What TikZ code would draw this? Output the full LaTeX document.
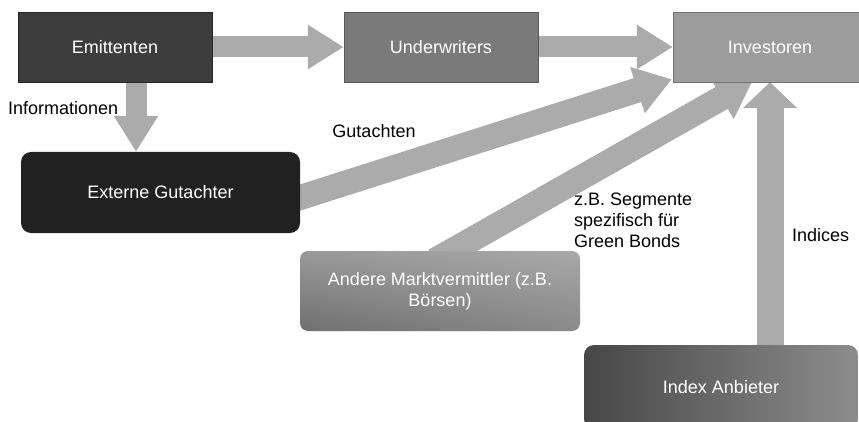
\documentclass[tikz,border=0pt]{standalone}
\usepackage{fontspec}
\setmainfont{Liberation Sans}
\usetikzlibrary{arrows.meta,shadings,backgrounds}
\definecolor{pfeilgrau}{HTML}{ABABAB}
\tikzset{
  kasten/.style={minimum width=194pt, minimum height=70pt, inner sep=0pt, font=\fontsize{18}{21}\selectfont},
  rund/.style={kasten, rounded corners=10pt, minimum width=279pt, minimum height=81pt},
  dick/.style={line width=21pt, color=pfeilgrau, -{Triangle[width=42pt,length=36pt]}},
  beschrift/.style={font=\fontsize{18}{21}\selectfont, inner sep=0pt}
}
\begin{document}
\begin{tikzpicture}[x=1pt, y=-1pt]
\useasboundingbox (0,0) rectangle (859,422);
\clip (0,0) rectangle (859,422);
% Kaesten
\node[kasten, fill=black!76, draw=black!85, text=white!94] (emi) at (115,47) {Emittenten};
\node[kasten, fill=black!52, draw=black!65, text=white!88] (und) at (441,47) {Underwriters};
\node[kasten, fill=black!39, draw=black!55, text=white!94] (inv) at (770,47) {Investoren};
\node[rund, fill=black!87, text=white] (ext) at (160.5,192.5) {Externe Gutachter};
\node[rund, rounded corners=8pt, minimum width=280pt, minimum height=80pt, align=center,
  upper left=black!40, upper right=black!34, lower left=black!56, lower right=black!46,
  text=white!94] (and) at (440,291) {Andere Marktvermittler (z.B.\\Börsen)};
\node[rund, minimum width=274pt, minimum height=84pt, left color=black!72, right color=black!45,
  text=white!94] (idx) at (721,387) {Index Anbieter};
% Pfeile
\begin{scope}[on background layer]
\draw[dick] (emi.east) -- (und.west);
\draw[dick] (und.east) -- (inv.west);
\draw[dick] ([xshift=21pt]emi.south) -- ([xshift=21pt]emi.south |- ext.north);
\draw[dick, line width=25pt, -{Triangle[width=46pt,length=36pt]}, shorten <=-20pt] ([yshift=-5pt]ext.east) -- ([xshift=-1pt,yshift=3pt]inv.south west);
\draw[dick, line width=25pt, -{Triangle[width=46pt,length=36pt]}, shorten <=-20pt] ([xshift=12pt]and.north) -- ([xshift=-17pt,yshift=2pt]inv.south);
\draw[dick, line width=27pt, -{Triangle[width=53pt,length=26pt]}, shorten <=-10pt] (inv.south |- idx.north) -- (inv.south);
\end{scope}
% Beschriftungen
\node[beschrift, anchor=west] (info) at (8,108) {Informationen};
\node[beschrift] (gut) at (374,131) {Gutachten};
\node[beschrift, anchor=north west, align=left] (seg) at (574,193) {z.B. Segmente\\spezifisch für\\Green Bonds};
\node[beschrift, anchor=west] (ind) at (792,235) {Indices};
\end{tikzpicture}
\end{document}
